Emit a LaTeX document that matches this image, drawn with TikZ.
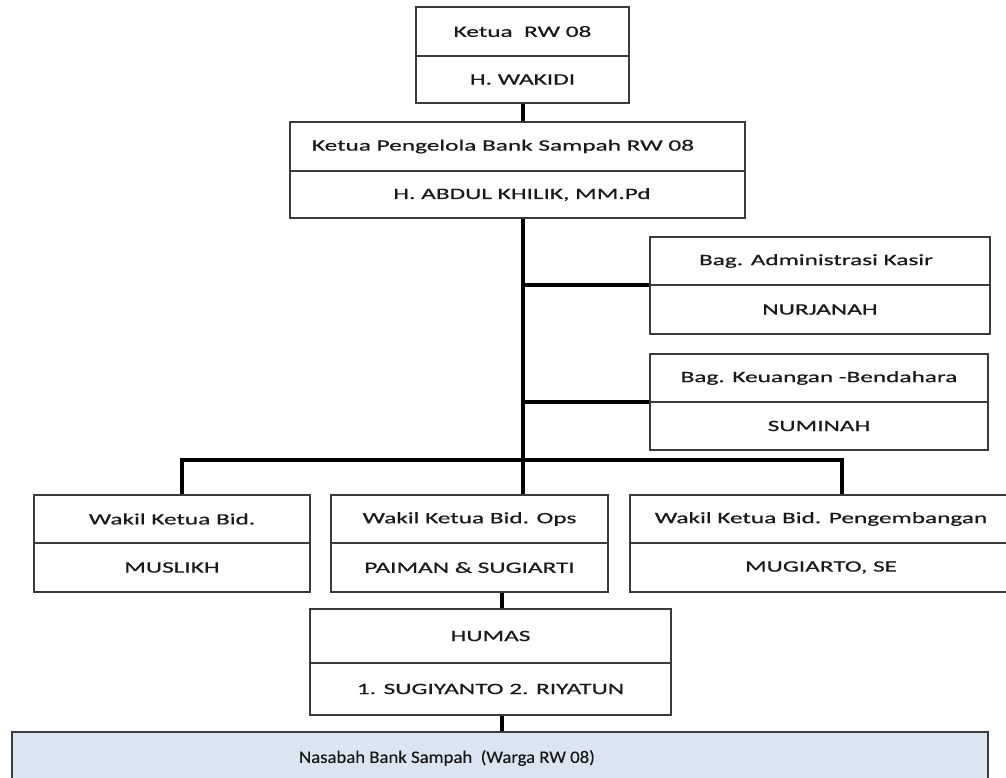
\documentclass[tikz,border=0pt]{standalone}
\usepackage{fontspec}
\setmainfont{Carlito}
% wide setting used inside the organisation boxes
\newfontfamily\orgfont[FakeStretch=1.6,FakeBold=0.5]{Carlito}
\newfontfamily\footfont[FakeStretch=1.07,FakeBold=0.3]{Carlito}
\definecolor{nasfill}{HTML}{DBE5F1}
\definecolor{boxline}{HTML}{3A3A3A}
\begin{document}
\begin{tikzpicture}[x=1pt,y=-1pt,
  cell/.style={draw=boxline,line width=1.3pt,fill=white,inner sep=0pt,
    font=\orgfont\fontsize{15.8}{18}\selectfont,text=black!90},
  link/.style={line width=3.6pt,black}]
\useasboundingbox (0,0) rectangle (1006,778);
\clip (0,0) rectangle (1006,778);

% junction points on the main trunk and the deputies' bus
\coordinate (busL) at (182,460);
\coordinate (busM) at (523,460);
\coordinate (busR) at (842,460);
\coordinate (admJ) at (523,285);
\coordinate (keuJ) at (523,402);

% Ketua RW
\node[cell,minimum width=213,minimum height=49] (rwT) at (522.5,31.5) {Ketua \ RW 08};
\node[cell,minimum width=213,minimum height=47] (rwB) at (522.5,79.5) {H. WAKIDI};

% Ketua Pengelola
\node[cell,minimum width=455,minimum height=49] (kpT) at (517.5,146.5) {Ketua Pengelola Bank Sampah RW 08\hspace*{29pt}};
\node[cell,minimum width=455,minimum height=47] (kpB) at (517.5,194.5) {H. ABDUL KHILIK, MM.Pd\hspace*{-9pt}};

% staff sections
\node[cell,minimum width=340,minimum height=48] (admT) at (820,261) {Bag. Administrasi Kasir\hspace*{8pt}};
\node[cell,minimum width=340,minimum height=49] (admB) at (820,309.5) {NURJANAH};
\node[cell,minimum width=338,minimum height=48] (keuT) at (819,378) {Bag. Keuangan -Bendahara};
\node[cell,minimum width=338,minimum height=48] (keuB) at (819,426) {SUMINAH};

% deputies
\node[cell,minimum width=276,minimum height=48] (waT) at (172,519) {Wakil Ketua Bid.};
\node[cell,minimum width=276,minimum height=49] (waB) at (172,567.5) {MUSLIKH};
\node[cell,minimum width=277,minimum height=48] (wbT) at (469.5,519) {Wakil Ketua Bid. Ops};
\node[cell,minimum width=277,minimum height=49] (wbB) at (469.5,567.5) {PAIMAN \& SUGIARTI};
\node[cell,minimum width=382,minimum height=48] (wcT) at (821,519) {Wakil Ketua Bid. Pengembangan};
\node[cell,minimum width=382,minimum height=49] (wcB) at (821,567.5) {MUGIARTO, SE};

% public relations
\node[cell,minimum width=361,minimum height=54] (huT) at (490.5,636) {HUMAS};
\node[cell,minimum width=361,minimum height=52] (huB) at (490.5,689) {1. SUGIYANTO 2. RIYATUN};

% members
\node[draw=boxline,line width=1.3pt,fill=nasfill,inner sep=0pt,minimum width=976,minimum height=80] (nas) at (500,772) {};
\node[font=\footfont\fontsize{17.5}{20}\selectfont,text=black!90,inner sep=0pt] (nasText) at (447,758) {Nasabah Bank Sampah \ (Warga RW 08)};

% connector lines
\draw[link] (rwB.south) ++(0.5,0) coordinate (rwS) -- (rwS |- kpT.north);
\draw[link] (rwS |- kpB.south) -- (busM);
\draw[link] (admJ) -- (admJ -| admB.west);
\draw[link] (keuJ) -- (keuJ -| keuB.west);
\draw[link,line cap=rect] (busL) -- (busR);
\draw[link] (busL) -- (busL |- waT.north);
\draw[link] (busM) -- (busM |- wbT.north);
\draw[link] (busR) -- (busR |- wcT.north);
\coordinate (huX) at (502,600);
\draw[link] (huX |- wbB.south) -- (huX |- huT.north);
\draw[link] (huX |- huB.south) -- (huX |- nas.north);
\end{tikzpicture}
\end{document}
